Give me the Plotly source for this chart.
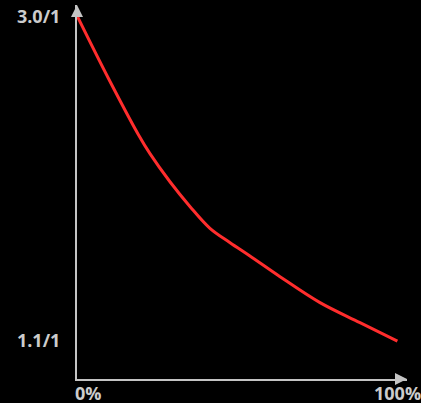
import plotly.graph_objects as go

# Data
pct = [0, 9.6, 19.0, 22.7, 28.9, 35.2, 41.4, 47.7, 53.9, 63.3, 75.8, 88.3, 100]
ratio = [3.0, 2.641, 2.310, 2.196, 2.033, 1.887, 1.760, 1.676, 1.598, 1.477, 1.325, 1.208, 1.1]
y_tick_vals = [1.1, 3.0]
y_tick_text = ["1.1/1", "3.0/1"]
x_tick_vals = [0, 100]
x_tick_text = ["0%", "100%"]

AXIS = "#c4c4c4"
LABEL = "#cccccc"
FONT = "Open Sans"
FSIZE = 18

fig = go.Figure()
fig.add_trace(go.Scatter(
    x=pct, y=ratio, mode="lines",
    line=dict(color="#ff2d2d", width=3, shape="spline", smoothing=1.0),
    hoverinfo="skip", showlegend=False, cliponaxis=False,
))

fig.update_layout(
    width=421, height=403,
    margin=dict(l=77, r=14, t=5, b=24),
    paper_bgcolor="#000000", plot_bgcolor="#000000",
    font=dict(family=FONT, size=FSIZE, color=LABEL, weight="bold"),
    xaxis=dict(range=[-0.16, 103.0], showgrid=False, zeroline=False,
               showline=True, linecolor=AXIS, linewidth=2,
               tickvals=[], showticklabels=False, fixedrange=True),
    yaxis=dict(range=[0.8776, 3.0685], showgrid=False, zeroline=False,
               showline=True, linecolor=AXIS, linewidth=2,
               tickvals=y_tick_vals, ticktext=y_tick_text,
               ticks="outside", ticklen=11, tickcolor="rgba(0,0,0,0)",
               tickfont=dict(family=FONT, size=FSIZE, color=LABEL, weight="bold"),
               fixedrange=True),
)

# x tick labels
anchors = ["left", "center"]
for v, t, a in zip(x_tick_vals, x_tick_text, anchors):
    fig.add_annotation(x=v, y=0, xref="x", yref="paper", text=t,
                       showarrow=False, xanchor=a, yanchor="middle",
                       yshift=-14, xshift=-5 if a == "left" else 0,
                       font=dict(family=FONT, size=FSIZE, color=LABEL, weight="bold"))

# axis arrowheads
fig.add_annotation(x=1, y=0, xref="paper", yref="paper", ax=-12, ay=0,
                   showarrow=True, arrowhead=2, arrowsize=1.2, arrowwidth=2,
                   arrowcolor=AXIS, text="")
fig.add_annotation(x=0, y=1, xref="paper", yref="paper", ax=0, ay=12,
                   showarrow=True, arrowhead=2, arrowsize=1.2, arrowwidth=2,
                   arrowcolor=AXIS, text="")

fig.write_html(
    "out.html",
    config={"displayModeBar": False},
    post_script="document.body.style.margin='0';document.body.style.overflow='hidden';",
)
